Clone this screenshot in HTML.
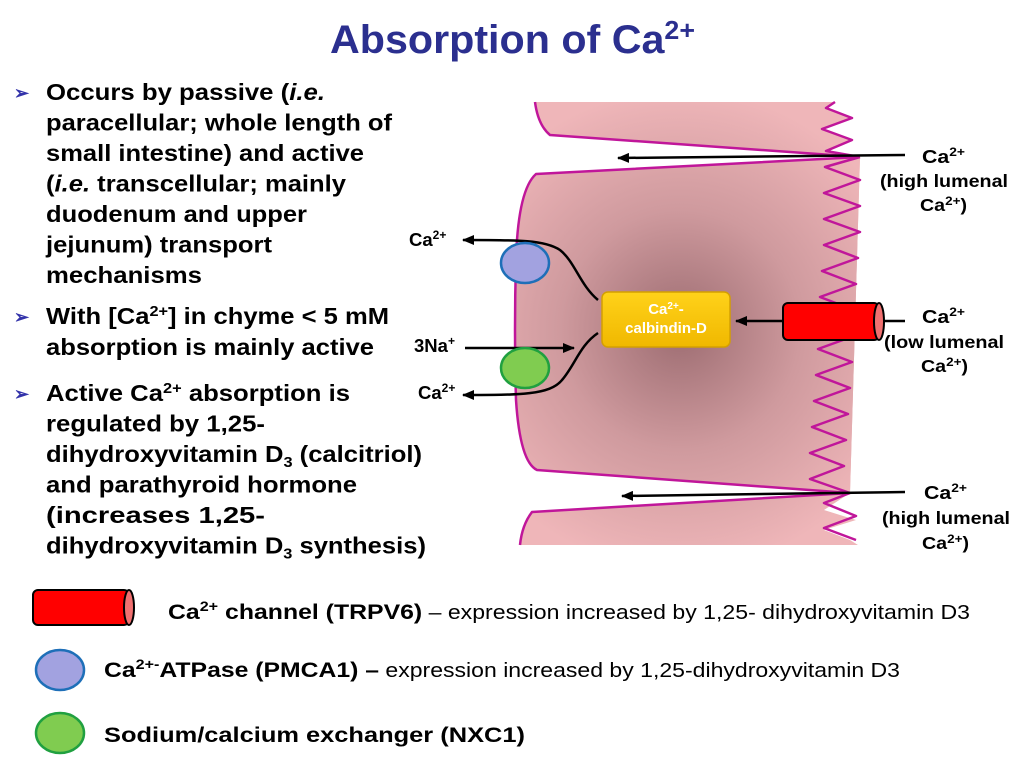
<!DOCTYPE html>
<html><head><meta charset="utf-8"><style>
body{margin:0;background:#fff;}
svg{display:block;font-family:"Liberation Sans",Arial,sans-serif;}
.b{font-weight:bold;fill:#000;}
</style></head><body>
<svg width="1024" height="768" viewBox="0 0 1024 768" xmlns="http://www.w3.org/2000/svg">
<defs>
<radialGradient id="g" cx="680" cy="330" r="240" gradientUnits="userSpaceOnUse">
<stop offset="0" stop-color="#9c6c71"/><stop offset="0.5" stop-color="#cf9a9e"/><stop offset="1" stop-color="#efb6b9"/>
</radialGradient>
<linearGradient id="y" x1="0" y1="0" x2="0" y2="1"><stop offset="0" stop-color="#ffd21a"/><stop offset="1" stop-color="#f0b800"/></linearGradient>
<marker id="a" markerWidth="12" markerHeight="10" refX="11" refY="5" orient="auto" markerUnits="userSpaceOnUse"><path d="M0,0 L12,5 L0,10 Z" fill="#000"/></marker>
</defs>
<text x="330" y="53" textLength="365" lengthAdjust="spacingAndGlyphs" font-size="40" font-weight="bold" fill="#2b2f8f">Absorption of Ca<tspan dy="-14" font-size="26">2+</tspan></text>

<g font-size="23.5" class="b">
<text x="14" y="99" fill="#3333aa" font-size="18">➢</text>
<text x="46" y="100" textLength="279" lengthAdjust="spacingAndGlyphs">Occurs by passive (<tspan font-style="italic">i.e.</tspan></text>
<text x="46" y="130.5" textLength="346" lengthAdjust="spacingAndGlyphs">paracellular; whole length of</text>
<text x="46" y="161" textLength="318" lengthAdjust="spacingAndGlyphs">small intestine) and active</text>
<text x="46" y="191.5" textLength="300" lengthAdjust="spacingAndGlyphs">(<tspan font-style="italic">i.e.</tspan> transcellular; mainly</text>
<text x="46" y="222" textLength="261" lengthAdjust="spacingAndGlyphs">duodenum and upper</text>
<text x="46" y="252.5" textLength="226" lengthAdjust="spacingAndGlyphs">jejunum) transport</text>
<text x="46" y="283" textLength="156" lengthAdjust="spacingAndGlyphs">mechanisms</text>
<text x="14" y="323" fill="#3333aa" font-size="18">➢</text>
<text x="46" y="324" textLength="343" lengthAdjust="spacingAndGlyphs">With [Ca<tspan dy="-8" font-size="15">2+</tspan><tspan dy="8">] in chyme &lt; 5 mM</tspan></text>
<text x="46" y="355" textLength="328" lengthAdjust="spacingAndGlyphs">absorption is mainly active</text>
<text x="14" y="400" fill="#3333aa" font-size="18">➢</text>
<text x="46" y="401" textLength="304" lengthAdjust="spacingAndGlyphs">Active Ca<tspan dy="-8" font-size="15">2+</tspan><tspan dy="8"> absorption is</tspan></text>
<text x="46" y="431.5" textLength="219" lengthAdjust="spacingAndGlyphs">regulated by 1,25-</text>
<text x="46" y="462" textLength="376" lengthAdjust="spacingAndGlyphs">dihydroxyvitamin D<tspan dy="5" font-size="15">3</tspan><tspan dy="-5"> (calcitriol)</tspan></text>
<text x="46" y="492.5" textLength="311" lengthAdjust="spacingAndGlyphs">and parathyroid hormone</text>
<text x="46" y="523" textLength="219" lengthAdjust="spacingAndGlyphs">(increases 1,25-</text>
<text x="46" y="553.5" textLength="380" lengthAdjust="spacingAndGlyphs">dihydroxyvitamin D<tspan dy="5" font-size="15">3</tspan><tspan dy="-5"> synthesis)</tspan></text>
</g>

<g fill="url(#g)" stroke="#c0169a" stroke-width="2.5" stroke-linejoin="round">
<path d="M535,102 Q538,125 550,135 L860,157 L826,151 L852,140 L822,129 L852,118 L826,108 L835,102 Z" stroke="none"/>
<path d="M535,102 Q538,125 550,135 L860,157"/>
<path d="M835,102 L826,108 L852,118 L822,129 L852,140 L826,151 L860,157" fill="none"/>
<path d="M860,157 L536,174 Q518,190 516,260 Q514,330 516,400 Q520,462 537,470 L850,493 Z" stroke="none"/>
<path d="M860,157 L536,174 Q518,190 516,260 Q514,330 516,400 Q520,462 537,470 L850,493" fill="none"/>
<path d="M860,157 L825,167 L860,180 L824,193 L860,206 L824,219 L860,232 L824,245 L858,258 L822,271 L856,284 L820,297 L854,310 L820,323 L854,336 L818,349 L852,362 L816,375 L850,388 L814,401 L848,414 L812,427 L846,440 L810,453 L844,466 L810,479 L850,493" fill="url(#g)" stroke="none"/>
<path d="M860,157 L825,167 L860,180 L824,193 L860,206 L824,219 L860,232 L824,245 L858,258 L822,271 L856,284 L820,297 L854,310 L820,323 L854,336 L818,349 L852,362 L816,375 L850,388 L814,401 L848,414 L812,427 L846,440 L810,453 L844,466 L810,479 L850,493" fill="none"/>
<path d="M850,493 L532,512 Q522,525 520,545 L858,545 L850,540 L824,530 L856,520 L824,510 Z" stroke="none"/>
<path d="M520,545 Q522,525 532,512 L850,493 L824,503 L856,516 L824,528 L856,540" fill="none"/>
</g>

<g stroke="#000" stroke-width="2.5" fill="none">
<line x1="905" y1="155" x2="618" y2="158" marker-end="url(#a)"/>
<line x1="905" y1="492" x2="622" y2="496" marker-end="url(#a)"/>
<line x1="783" y1="321" x2="736" y2="321" marker-end="url(#a)"/>
<line x1="883" y1="321" x2="905" y2="321"/>
<path d="M598,300 C580,285 575,262 560,250 C545,240 520,240 463,240" marker-end="url(#a)"/>
<path d="M598,333 C580,345 575,365 562,380 C550,395 520,395 463,395" marker-end="url(#a)"/>
<line x1="465" y1="348" x2="574" y2="348" marker-end="url(#a)"/>
</g>

<ellipse cx="525" cy="263" rx="24" ry="20" fill="#a2a2e0" stroke="#1e6fb8" stroke-width="2.5"/>
<ellipse cx="525" cy="368" rx="24" ry="20" fill="#80cc50" stroke="#20a040" stroke-width="2.5"/>

<rect x="602" y="292" width="128" height="55" rx="6" fill="url(#y)" stroke="#d4a000" stroke-width="1.5"/>
<text x="666" y="314" text-anchor="middle" font-size="15" font-weight="bold" fill="#fff">Ca<tspan dy="-5" font-size="10">2+</tspan><tspan dy="5">-</tspan></text>
<text x="666" y="333" text-anchor="middle" font-size="15" font-weight="bold" fill="#fff">calbindin-D</text>

<rect x="783" y="303" width="96" height="37" rx="5" fill="#ff0000" stroke="#000" stroke-width="2"/>
<ellipse cx="879" cy="321.5" rx="5" ry="18.5" fill="#f07070" stroke="#000" stroke-width="2"/>

<g class="b" font-size="18.5">
<text x="409" y="246">Ca<tspan dy="-7" font-size="12">2+</tspan></text>
<text x="414" y="352">3Na<tspan dy="-7" font-size="12">+</tspan></text>
<text x="418" y="399">Ca<tspan dy="-7" font-size="12">2+</tspan></text>
<text x="922" y="163" textLength="43" lengthAdjust="spacingAndGlyphs">Ca<tspan dy="-7" font-size="12">2+</tspan></text>
<text x="880" y="187" textLength="128" lengthAdjust="spacingAndGlyphs" font-size="17.5">(high lumenal</text>
<text x="920" y="211" textLength="47" lengthAdjust="spacingAndGlyphs" font-size="17.5">Ca<tspan dy="-6" font-size="12">2+</tspan><tspan dy="6">)</tspan></text>
<text x="922" y="323" textLength="43" lengthAdjust="spacingAndGlyphs">Ca<tspan dy="-7" font-size="12">2+</tspan></text>
<text x="884" y="348" textLength="120" lengthAdjust="spacingAndGlyphs" font-size="17.5">(low lumenal</text>
<text x="921" y="372" textLength="47" lengthAdjust="spacingAndGlyphs" font-size="17.5">Ca<tspan dy="-6" font-size="12">2+</tspan><tspan dy="6">)</tspan></text>
<text x="924" y="499" textLength="43" lengthAdjust="spacingAndGlyphs">Ca<tspan dy="-7" font-size="12">2+</tspan></text>
<text x="882" y="524" textLength="128" lengthAdjust="spacingAndGlyphs" font-size="17.5">(high lumenal</text>
<text x="922" y="549" textLength="47" lengthAdjust="spacingAndGlyphs" font-size="17.5">Ca<tspan dy="-6" font-size="12">2+</tspan><tspan dy="6">)</tspan></text>
</g>

<rect x="33" y="590" width="96" height="35" rx="5" fill="#ff0000" stroke="#000" stroke-width="2"/>
<ellipse cx="129" cy="607.5" rx="5" ry="17.5" fill="#f07070" stroke="#000" stroke-width="2"/>
<text x="168" y="619" font-size="21.5" class="b" textLength="802" lengthAdjust="spacingAndGlyphs">Ca<tspan dy="-8" font-size="14">2+</tspan><tspan dy="8"> channel (TRPV6)</tspan><tspan font-weight="normal" font-size="20"> – expression increased by 1,25- dihydroxyvitamin D3</tspan></text>
<ellipse cx="60" cy="670" rx="24" ry="20" fill="#a2a2e0" stroke="#1e6fb8" stroke-width="2.5"/>
<text x="104" y="677" font-size="21.5" class="b" textLength="796" lengthAdjust="spacingAndGlyphs">Ca<tspan dy="-8" font-size="14">2+-</tspan><tspan dy="8">ATPase (PMCA1) –</tspan><tspan font-weight="normal" font-size="20"> expression increased by 1,25-dihydroxyvitamin D3</tspan></text>
<ellipse cx="60" cy="733" rx="24" ry="20" fill="#80cc50" stroke="#20a040" stroke-width="2.5"/>
<text x="104" y="742" font-size="21.5" class="b" textLength="421" lengthAdjust="spacingAndGlyphs">Sodium/calcium exchanger (NXC1)</text>
</svg>
</body></html>
